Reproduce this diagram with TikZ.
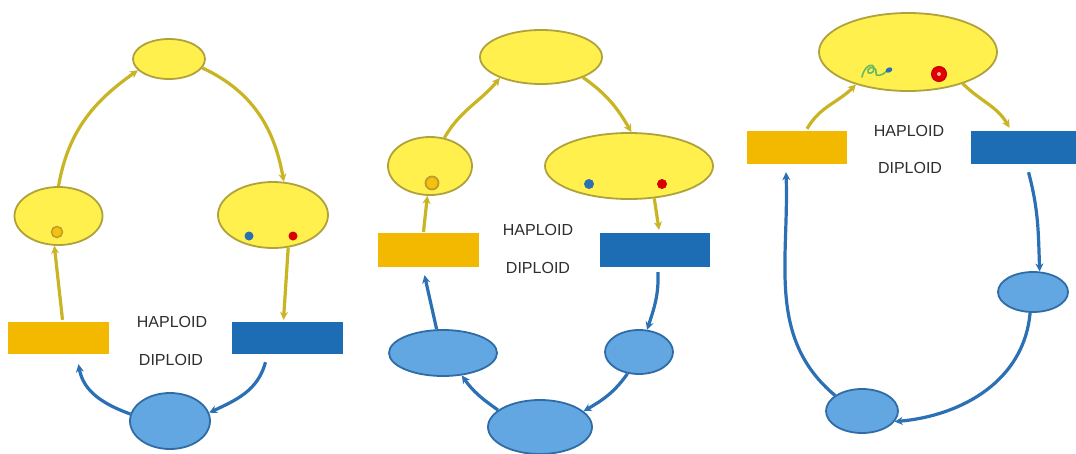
\documentclass[tikz,border=0pt]{standalone}
\usepackage{fontspec}
\setmainfont{Liberation Sans}
\usetikzlibrary{shapes.geometric,arrows.meta}
\definecolor{yfill}{HTML}{FFF04E}
\definecolor{ydraw}{HTML}{AFA23A}
\definecolor{yarrow}{HTML}{C9B424}
\definecolor{orect}{HTML}{F2B900}
\definecolor{brect}{HTML}{1D6DB4}
\definecolor{bfill}{HTML}{63A7E2}
\definecolor{bdraw}{HTML}{2F6CA6}
\definecolor{barrow}{HTML}{2B70B5}
\definecolor{txt}{HTML}{2E2E2E}
\tikzset{
  yel/.style={ellipse, draw=ydraw, fill=yfill, line width=1.8pt, inner sep=0pt},
  blu/.style={ellipse, draw=bdraw, fill=bfill, line width=1.8pt, inner sep=0pt},
  orbox/.style={rectangle, fill=orect, inner sep=0pt},
  blbox/.style={rectangle, fill=brect, inner sep=0pt},
  lbl/.style={text=txt, font=\fontsize{16}{18}\selectfont, inner sep=0pt},
  yarr/.style={draw=yarrow, line width=3.2pt, -{Stealth[length=8pt,width=8pt]}},
  barr/.style={draw=barrow, line width=3.2pt, -{Stealth[length=8pt,width=8pt]}},
}
\begin{document}
\begin{tikzpicture}[x=1pt,y=-1pt]
\fill[white] (0,0) rectangle (1076,453);
\useasboundingbox (0,0) rectangle (1076,453);

% ---------------- Panel 1 ----------------
\node[yel, minimum width=72pt, minimum height=40pt] (T1) at (169,59) {};
\node[yel, minimum width=88pt, minimum height=58pt] (L1) at (58.5,216) {};
\node[yel, minimum width=110pt, minimum height=66pt] (R1) at (273,215) {};
\node[orbox, minimum width=101pt, minimum height=32pt] (OR1) at (58.5,338) {};
\node[blbox, minimum width=111pt, minimum height=32pt] (BR1) at (287.5,338) {};
\node[blu, minimum width=80pt, minimum height=56pt] (B1) at (170,421) {};
\node[circle, draw=ydraw!80!orange, fill=orect!85!yfill, line width=1.5pt, minimum size=11pt, inner sep=0pt] (c1) at (57,232) {};
\node[circle, fill=barrow, minimum size=9pt, inner sep=0pt] (bd1) at (249,236) {};
\node[circle, fill=red!85!black, minimum size=9pt, inner sep=0pt] (rd1) at (293,236) {};
\node[lbl] (h1) at (172,322) {HAPLOID};
\node[lbl] (d1) at (171,360) {DIPLOID};

\draw[yarr] (L1.north) to[out=80,in=215] (T1.200);
\draw[yarr] (T1.-15) to[out=-25,in=100] (R1.72);
\draw[yarr] (R1.-65) -- ([xshift=-4pt,yshift=2pt]BR1.north);
\draw[yarr] ([xshift=4pt,yshift=2pt]OR1.north) -- (L1.262);
\draw[barr] ([xshift=-22pt,yshift=-8pt]BR1.south) to[out=-105,in=25] (B1.12);
\draw[barr] (B1.170) to[out=160,in=-80] ([xshift=20pt,yshift=-10pt]OR1.south);

% ---------------- Panel 2 ----------------
\node[yel, minimum width=122pt, minimum height=54pt] (T2) at (541,57) {};
\node[yel, minimum width=84pt, minimum height=58pt] (L2) at (430,166) {};
\node[yel, minimum width=168pt, minimum height=66pt] (R2) at (629,166) {};
\node[orbox, minimum width=101pt, minimum height=34pt] (OR2) at (428.5,250) {};
\node[blbox, minimum width=110pt, minimum height=34pt] (BR2) at (655,250) {};
\node[blu, minimum width=108pt, minimum height=46pt] (BL2) at (443,353) {};
\node[blu, minimum width=68pt, minimum height=44pt] (BRt2) at (639,352) {};
\node[blu, minimum width=104pt, minimum height=54pt] (B2) at (540,427) {};
\node[circle, draw=ydraw!80!orange, fill=orect!85!yfill, line width=1.8pt, minimum size=13pt, inner sep=0pt] (c2) at (432,183) {};
\node[circle, fill=barrow, minimum size=10pt, inner sep=0pt] (bd2) at (589,184) {};
\node[circle, fill=red!85!black, minimum size=10pt, inner sep=0pt] (rd2) at (662,184) {};
\node[lbl] (h2) at (538,230) {HAPLOID};
\node[lbl] (d2) at (538,268) {DIPLOID};

\draw[yarr] (L2.63) to[out=60,in=230] (T2.207);
\draw[yarr] (T2.-26) to[out=-35,in=120] (R2.86);
\draw[yarr] (R2.-52) -- ([xshift=4pt,yshift=3pt]BR2.north);
\draw[yarr] ([xshift=-5pt,yshift=1pt]OR2.north) -- (L2.265);
\draw[barr] ([xshift=3pt,yshift=-5pt]BR2.south) to[out=-88,in=72] (BRt2.70);
\draw[barr] (BRt2.242) to[out=-125,in=30] (B2.20);
\draw[barr] (B2.158) to[out=145,in=-55] (BL2.-50);
\draw[barr] (BL2.105) -- ([xshift=-4pt,yshift=-8pt]OR2.south);

% ---------------- Panel 3 ----------------
\node[yel, minimum width=178pt, minimum height=78pt] (T3) at (908,52) {};
\node[orbox, minimum width=100pt, minimum height=33pt] (OR3) at (797,147.5) {};
\node[blbox, minimum width=105pt, minimum height=33pt] (BR3) at (1023.5,147.5) {};
\node[blu, minimum width=70pt, minimum height=40pt] (R3) at (1033,292) {};
\node[blu, minimum width=72pt, minimum height=44pt] (B3) at (862,411) {};
\node[lbl] (h3) at (909,131) {HAPLOID};
\node[lbl] (d3) at (910,168) {DIPLOID};
% sperm-like squiggle and egg
\draw[green!55!black!60!white, line width=1.6pt, line cap=round]
  (862,77) .. controls (864,66) and (873,62) .. (874,68)
  .. controls (875,74) and (866,75) .. (868,70)
  .. controls (870,65) and (878,68) .. (876,73)
  .. controls (875,77) and (882,76) .. (887,71);
\node[ellipse, fill=barrow, minimum width=7pt, minimum height=5pt, inner sep=0pt, rotate=25] (sp3) at (889,70) {};
\node[circle, draw=red!75!black, fill=red!90!black, line width=1pt, minimum size=15pt, inner sep=0pt] (rd3) at (939,74) {};
\node[circle, fill=red!30!white, minimum size=4pt, inner sep=0pt] (rc3) at (939,74) {};

\draw[yarr] ([xshift=10pt,yshift=2pt]OR3.north) to[out=60,in=225] (T3.212);
\draw[yarr] (T3.-30) to[out=-45,in=120] ([xshift=-14pt,yshift=3pt]BR3.north);
\draw[barr] ([xshift=5pt,yshift=-8pt]BR3.south) to[out=-75,in=92] (R3.72);
\draw[barr] (R3.262) to[out=-95,in=5] (B3.-18);
\draw[barr] (B3.150) to[out=140,in=-88] ([xshift=-11pt,yshift=-8pt]OR3.south);
\end{tikzpicture}
\end{document}
